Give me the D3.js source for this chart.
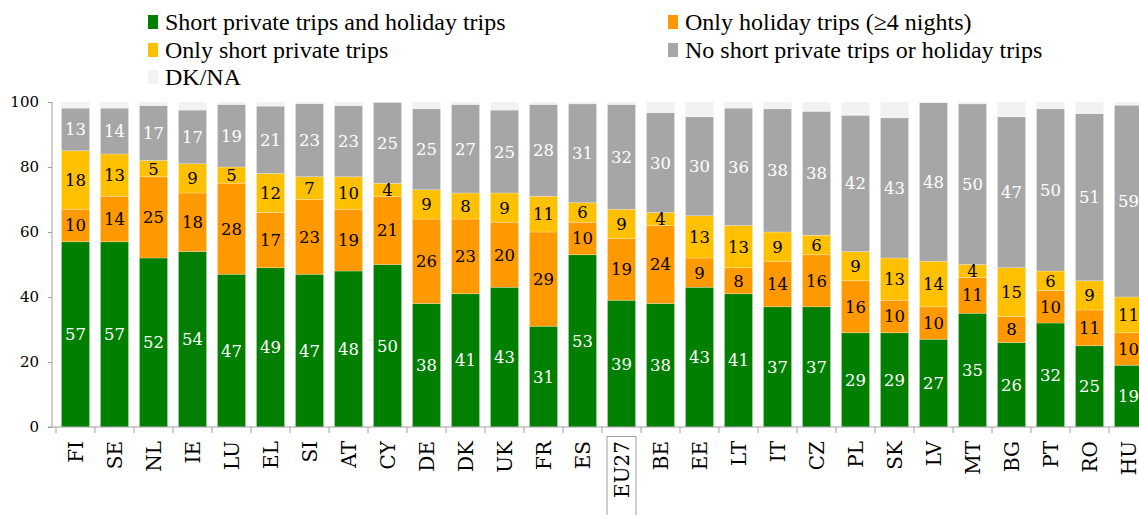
<!DOCTYPE html>
<html><head><meta charset="utf-8">
<script src="https://cdn.jsdelivr.net/npm/d3@7"></script>
<style>body{margin:0;background:#fff}svg{display:block}</style>
</head><body>
<svg id="c" width="1139" height="515"></svg>
<script>
const categories = ["FI","SE","NL","IE","LU","EL","SI","AT","CY","DE","DK","UK","FR","ES","EU27","BE","EE","LT","IT","CZ","PL","SK","LV","MT","BG","PT","RO","HU"];
const shortAndHoliday = [57,57,52,54,47,49,47,48,50,38,41,43,31,53,39,38,43,41,37,37,29,29,27,35,26,32,25,19];
const onlyHoliday     = [10,14,25,18,28,17,23,19,21,26,23,20,29,10,19,24,9,8,14,16,16,10,10,11,8,10,11,10];
const onlyShort       = [18,13,5,9,5,12,7,10,4,9,8,9,11,6,9,4,13,13,9,6,9,13,14,4,15,6,9,11];
const noTrips         = [13,14,17,17,19,21,23,23,25,25,27,25,28,31,32,30,30,36,38,38,42,43,48,50,47,50,51,59];
const dkna            = [1.9,1.9,1.1,2.5,0.8,1.3,0.5,1.1,0.1,2.1,0.8,2.5,0.8,0.6,0.8,3.3,4.6,1.9,2.1,2.9,4.1,4.9,0.2,0.6,4.6,2.1,3.6,1.0];
const yTicks = [0,20,40,60,80,100];
const seriesNames = ["Short private trips and holiday trips","Only holiday trips (\u22654 nights)","Only short private trips","No short private trips or holiday trips","DK/NA"];
const colors = ["#007f00","#ff9900","#ffc000","#a6a6a6","#f2f2f2"];
const textColors = ["#fff","#000","#000","#fff",null];

// grey segment fills up to (100 - DK/NA); labels show the published rounded values
const rows = categories.map((c,i)=>{
  const base = shortAndHoliday[i]+onlyHoliday[i]+onlyShort[i];
  return {cat:c, s0:shortAndHoliday[i], s1:onlyHoliday[i], s2:onlyShort[i],
          s3:100-dkna[i]-base, s4:dkna[i],
          lab:[shortAndHoliday[i],onlyHoliday[i],onlyShort[i],noTrips[i]]};
});
const keys = ["s0","s1","s2","s3","s4"];
const stacked = d3.stack().keys(keys)(rows);

const svg = d3.select("#c");
const x = d3.scaleBand().domain(categories).range([56,1148]).paddingInner(0.28).paddingOuter(0.14);
const y = d3.scaleLinear().domain([0,100]).range([427,102]);

const numFont = "'DejaVu Serif', Georgia, serif";

// bars
const g = svg.append("g");
stacked.forEach((layer,li)=>{
  g.append("g").selectAll("rect").data(layer).join("rect")
    .attr("x",d=>x(d.data.cat)).attr("width",x.bandwidth())
    .attr("y",d=>y(d[1])).attr("height",d=>Math.max(0,y(d[0])-y(d[1])))
    .attr("fill",colors[li])
    .attr("stroke", li<4 ? "rgba(255,255,255,0.35)" : "none").attr("stroke-width",0.7);
});
// labels
stacked.forEach((layer,li)=>{
  if(!textColors[li]) return;
  g.append("g").selectAll("text").data(layer).join("text")
    .attr("x",d=>x(d.data.cat)+x.bandwidth()/2)
    .attr("y",d=>(y(d[0])+y(d[1]))/2)
    .attr("dy","0.36em")
    .attr("text-anchor","middle")
    .attr("font-family",numFont).attr("font-size",16.5)
    .attr("fill",textColors[li])
    .text(d=>d.data.lab[li]);
});

// y axis
const ya = svg.append("g").attr("transform","translate(52,0)")
  .call(d3.axisLeft(y).tickValues(yTicks).tickSize(4).tickPadding(9));
ya.select(".domain").attr("stroke","#a0a0a0").attr("d","M0,102V427");
ya.selectAll(".tick line").attr("stroke","#a0a0a0");
ya.selectAll("text").attr("font-family",numFont).attr("font-size",15).attr("fill","#000");

// x axis
const xa = svg.append("g").attr("transform","translate(0,427)")
  .call(d3.axisBottom(x).tickSize(0).tickFormat(""));
xa.select(".domain").attr("stroke","#a0a0a0").attr("d","M48,0H1139");
const boundaries = categories.map(c=>x(c)-x.step()*x.paddingInner()/2);
xa.selectAll(".bnd").data(boundaries).join("line").attr("class","bnd")
  .attr("x1",d=>d).attr("x2",d=>d).attr("y1",0).attr("y2",6).attr("stroke","#a0a0a0");
// x labels rotated
svg.append("g").selectAll("text").data(categories).join("text")
  .attr("transform",c=>`translate(${x(c)+x.bandwidth()/2+7},441) rotate(-90)`)
  .attr("text-anchor","end")
  .attr("font-family",numFont).attr("font-size",20).attr("fill","#000")
  .text(c=>c);
// EU27 box
svg.append("rect").attr("x",x("EU27")+x.bandwidth()/2-14.5).attr("y",436.5)
  .attr("width",29).attr("height",90).attr("fill","none").attr("stroke","#a0a0a0");

// legend
const legPos = [[148,22],[668,22],[148,50],[668,50],[148,77]];
const lg = svg.append("g");
seriesNames.forEach((n,i)=>{
  const [lx,ly]=legPos[i];
  lg.append("rect").attr("x",lx).attr("y",ly-7).attr("width",10).attr("height",14).attr("fill",colors[i]);
  lg.append("text").attr("x",lx+17).attr("y",ly).attr("dy","0.35em")
    .attr("font-family","'Liberation Serif', serif").attr("font-size",24).attr("fill","#000").text(n);
});
</script>
</body></html>
